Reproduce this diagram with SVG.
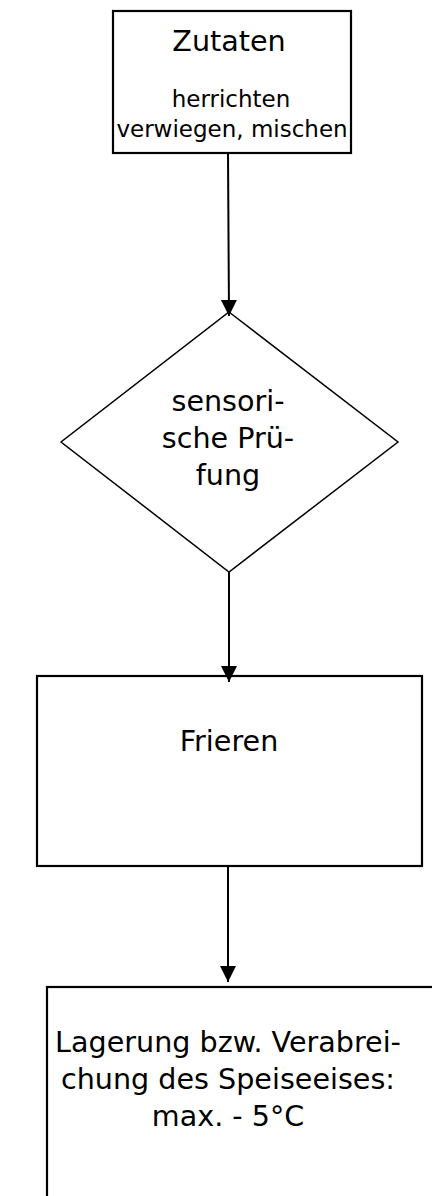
<svg xmlns="http://www.w3.org/2000/svg" width="432" height="1196" viewBox="0 0 432 1196">
<style>
.box{fill:#fff;stroke:#000;stroke-width:2.2}
.dia{fill:#fff;stroke:#000;stroke-width:1.5}
.t{font-family:"DejaVu Sans",Verdana,sans-serif;fill:#000;text-anchor:middle}
.big{font-size:28.6px}
.small{font-size:23px}
.conn{stroke:#000;stroke-width:2;fill:none;marker-end:url(#arr)}
</style>
<defs>
<marker id="arr" markerUnits="userSpaceOnUse" markerWidth="18" markerHeight="18" refX="16" refY="8" orient="auto">
<path d="M0,0 L16,8 L0,16 Z" fill="#000"/>
</marker>
</defs>
<rect width="432" height="1196" fill="#fff"/>
<g id="n1">
<rect class="box" x="113" y="11" width="238" height="142"/>
<text class="t big" x="229" y="51">Zutaten</text>
<text class="t small" x="231" y="107">herrichten</text>
<text class="t small" x="232" y="137">verwiegen, mischen</text>
</g>
<g id="n2">
<polygon class="dia" points="229,312 398,442 229,572 61,442"/>
<text class="t big" x="228" y="411">sensori-</text>
<text class="t big" x="228" y="448">sche Prü-</text>
<text class="t big" x="228" y="485">fung</text>
</g>
<g id="n3">
<rect class="box" x="37" y="676" width="385" height="190"/>
<text class="t big" x="229" y="751">Frieren</text>
</g>
<g id="n4">
<rect class="box" x="47" y="987" width="420" height="260"/>
<text class="t big" x="228" y="1052">Lagerung bzw. Verabrei-</text>
<text class="t big" x="228" y="1089">chung des Speiseeises:</text>
<text class="t big" x="228" y="1126">max. - 5°C</text>
</g>
<g id="connectors">
<line class="conn" x1="228" y1="153" x2="229" y2="316"/>
<line class="conn" x1="229" y1="572" x2="229" y2="682"/>
<line class="conn" x1="228" y1="866" x2="228" y2="982"/>
</g>
</svg>
